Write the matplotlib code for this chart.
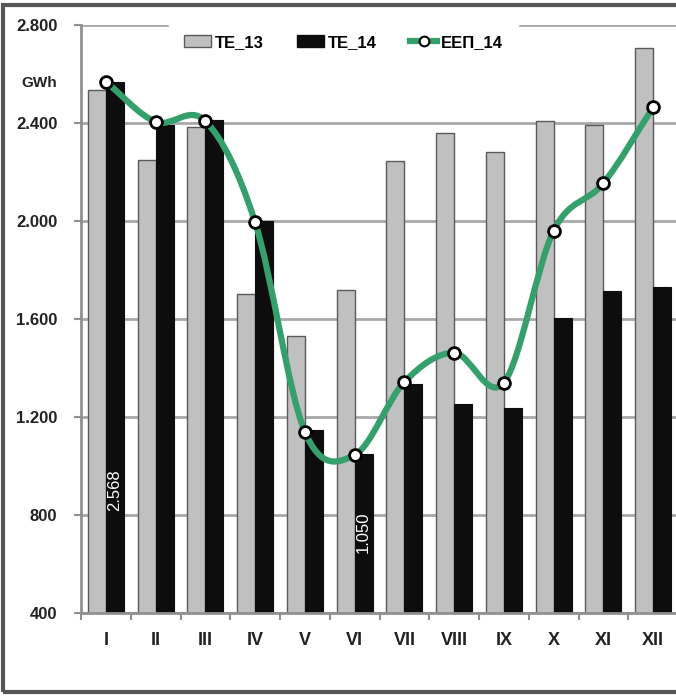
import matplotlib.pyplot as plt
import numpy as np
from matplotlib.path import Path
from matplotlib.patches import PathPatch, Rectangle
from matplotlib.lines import Line2D

# monthly values, GWh
months = ['I', 'II', 'III', 'IV', 'V', 'VI', 'VII', 'VIII', 'IX', 'X', 'XI', 'XII']
te13 = [2535, 2250, 2385, 1700, 1530, 1720, 2245, 2358, 2283, 2410, 2392, 2706]
te14 = [2568, 2392, 2412, 2001, 1147, 1050, 1333, 1253, 1237, 1603, 1714, 1729]
eep14 = [2568, 2405, 2408, 1995, 1140, 1045, 1343, 1462, 1340, 1960, 2154, 2464]
yticks = [400, 800, 1200, 1600, 2000, 2400, 2800]
ytick_labels = ['400', '800', '1.200', '1.600', '2.000', '2.400', '2.800']

plt.rcParams['font.family'] = ['Liberation Sans Narrow', 'Liberation Sans', 'DejaVu Sans']

fig = plt.figure(figsize=(6.76, 6.98), dpi=100)
ax = fig.add_axes([81/676, 1-613/698, 597/676, 588/698])

x = np.arange(len(months))
w = 0.36
gray = '#c0c0c0'
green = '#35a06b'

ax.bar(x - w/2, te13, w, color=gray, edgecolor='#5a5a5a', linewidth=1.0, zorder=2)
ax.bar(x + w/2, te14, w, color='#0d0d0d', edgecolor='#0d0d0d', linewidth=0.8, zorder=2)

# smoothed line (Bezier through the points, like the spreadsheet "smoothed line")
px = x.astype(float)
py = np.array(eep14, dtype=float)
n = len(px)
tx = np.zeros(n)
ty = np.zeros(n)
for i in range(n):
    a = max(i - 1, 0)
    b = min(i + 1, n - 1)
    tx[i] = (px[b] - px[a]) / (b - a)
    ty[i] = (py[b] - py[a]) / (b - a)
verts = [(px[0], py[0])]
codes = [Path.MOVETO]
for i in range(n - 1):
    verts += [(px[i] + tx[i]/3, py[i] + ty[i]/3),
              (px[i+1] - tx[i+1]/3, py[i+1] - ty[i+1]/3),
              (px[i+1], py[i+1])]
    codes += [Path.CURVE4] * 3
ax.add_patch(PathPatch(Path(verts, codes), facecolor='none', edgecolor=green,
                       linewidth=4.5, zorder=3, capstyle='round'))
ax.plot(x, eep14, linestyle='none', marker='o', markersize=8.5,
        markerfacecolor='white', markeredgecolor='black', markeredgewidth=2, zorder=4)

# data labels inside the black bars
ax.text(0 + w/2, 900, '2.568', rotation=90, color='white', fontsize=12,
        ha='center', va='center', zorder=5)
ax.text(5 + w/2, 730, '1.050', rotation=90, color='white', fontsize=12,
        ha='center', va='center', zorder=5)

ax.set_xlim(-0.5, 11.5)
ax.set_ylim(400, 2800)
ax.set_yticks(yticks)
ax.set_yticklabels(ytick_labels, fontsize=12, fontweight='bold', color='#222222')
ax.set_xticks(x)
ax.set_xticklabels(months, fontsize=13, fontweight='bold', color='#222222')
ax.set_xticks(np.arange(-0.5, 12, 1), minor=True)
ax.tick_params(axis='x', which='major', length=0, pad=14)
ax.tick_params(axis='x', which='minor', length=5, color='#909090', width=1.5)
ax.tick_params(axis='y', length=5, color='#909090', width=1.5, pad=12)
ax.grid(axis='y', color='#a8a8a8', linewidth=2, zorder=0)
ax.set_axisbelow(True)
for s in ['top', 'right']:
    ax.spines[s].set_visible(False)
for s in ['left', 'bottom']:
    ax.spines[s].set_color('#909090')
    ax.spines[s].set_linewidth(2)

ax.text(-0.04, 0.901, 'GWh', transform=ax.transAxes, fontsize=11, fontweight='bold',
        ha='right', va='center', color='#222222')

handles = [Rectangle((0, 0), 1, 1, facecolor=gray, edgecolor='#5a5a5a', linewidth=1),
           Rectangle((0, 0), 1, 1, facecolor='#0d0d0d', edgecolor='#0d0d0d'),
           Line2D([], [], color=green, linewidth=4.5, marker='o', markersize=7,
                  markerfacecolor='white', markeredgecolor='black', markeredgewidth=1.5)]
leg = ax.legend(handles, ['TE_13', 'TE_14', 'ЕЕП_14'], loc='center', ncol=3,
                bbox_to_anchor=(0.44, 0.97), frameon=True, fancybox=False,
                framealpha=1, edgecolor='white', handlelength=1.6, handletextpad=0.25,
                columnspacing=2.0, borderpad=0.9, borderaxespad=0,
                prop={'size': 12, 'weight': 'bold'})
leg.set_zorder(6)

# outer frame
fig.patches.append(Rectangle((3/676, 1-692/698), 690/676, 687/698, transform=fig.transFigure,
                             fill=False, edgecolor='#555555', linewidth=3))

fig.savefig('out.png', dpi=100)
